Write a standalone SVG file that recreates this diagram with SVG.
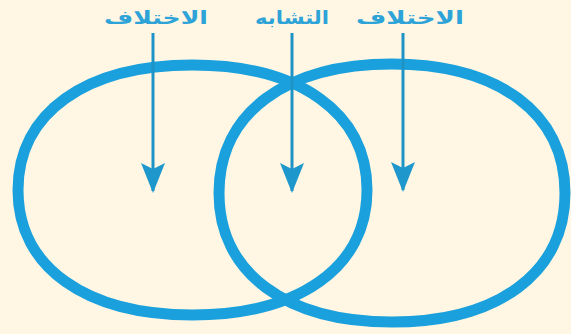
<svg xmlns="http://www.w3.org/2000/svg" width="571" height="334" viewBox="0 0 571 334">
  <style>
    .ring { fill: none; stroke: #1AA0DC; stroke-width: 11; }
    .arrow { stroke: #1E93C6; stroke-width: 3; fill: none; marker-end: url(#head); }
    .label { font-family: "DejaVu Sans", "Noto Sans", sans-serif; font-size: 18px; font-weight: bold; fill: #2EA3D8; text-anchor: middle; }
  </style>
  <defs>
    <marker id="head" viewBox="0 0 30 24" refX="28" refY="12" markerWidth="30" markerHeight="24" markerUnits="userSpaceOnUse" orient="auto">
      <path d="M0,0 L30,12 L0,24 L6,12 Z" fill="#1E98CC"/>
    </marker>
  </defs>
  <rect width="571" height="334" fill="#FFF7E4"/>
  <g id="left-circle">
    <path class="ring" d="M192.5,65 C299,65 367,112.5 367,190 C367,267.5 299,315 192.5,315 C86,315 18,267.5 18,190 C18,112.5 86,65 192.5,65 Z"/>
  </g>
  <g id="right-circle">
    <path class="ring" d="M392,64 C498,64 565,113 565,193 C565,273 498,322 392,322 C286,322 219,273 219,193 C219,113 286,64 392,64 Z"/>
  </g>
  <g id="label-left">
    <text class="label" x="156" y="24" direction="rtl" textLength="104" lengthAdjust="spacingAndGlyphs">الاختلاف</text>
  </g>
  <g id="label-middle">
    <text class="label" x="292" y="24" direction="rtl" textLength="74" lengthAdjust="spacingAndGlyphs">التشابه</text>
  </g>
  <g id="label-right">
    <text class="label" x="410" y="24" direction="rtl" textLength="108" lengthAdjust="spacingAndGlyphs">الاختلاف</text>
  </g>
  <g id="connectors">
    <line class="arrow" x1="153" y1="33" x2="153" y2="191"/>
    <line class="arrow" x1="292" y1="33" x2="292" y2="191"/>
    <line class="arrow" x1="403" y1="33" x2="403" y2="190"/>
  </g>
</svg>
